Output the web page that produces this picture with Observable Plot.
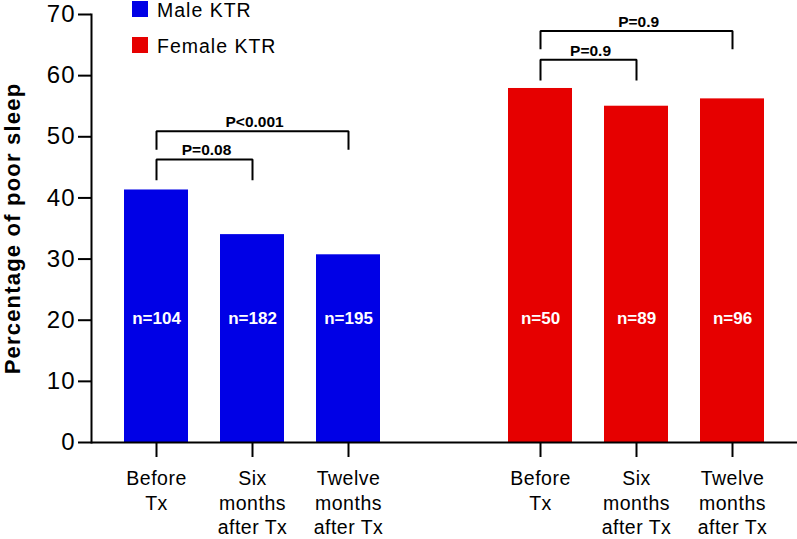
<!DOCTYPE html>
<html>
<head>
<meta charset="utf-8">
<script src="https://cdn.jsdelivr.net/npm/d3@7"></script>
<script src="https://cdn.jsdelivr.net/npm/@observablehq/plot@0.6"></script>
<style>
  html, body { margin: 0; padding: 0; background: #fff; }
  #wrap { position: relative; width: 797px; height: 539px; font-family: "Liberation Sans", Arial, Helvetica, sans-serif; color: #000; }
  #wrap svg { display: block; }
  .leg-sw { position: absolute; left: 132px; width: 16px; height: 16px; }
  .leg-tx { position: absolute; left: 157px; font-size: 19.5px; line-height: 1; letter-spacing: 1px; white-space: nowrap; }
  g[aria-label="y-axis tick label"] text { letter-spacing: 1px; }
  g[aria-label="x-axis tick label"] text { letter-spacing: 0.5px; }
  text.ytitle { letter-spacing: 1.2px; }
</style>
</head>
<body>
<div id="wrap"></div>
<script>
// ---- data ----
const groups = ["Male KTR", "Female KTR"];
const groupColors = ["#0000E6", "#E60000"];
const timepoints = ["Before Tx", "Six months after Tx", "Twelve months after Tx"];
const tickLabels = ["Before\nTx", "Six\nmonths\nafter Tx", "Twelve\nmonths\nafter Tx"];
const maleKeys = ["M0", "M1", "M2"];
const femaleKeys = ["F0", "F1", "F2"];
const slots = ["M0", "M1", "M2", "gap", "F0", "F1", "F2"];
const maleValues = [41.3, 34.0, 30.7];
const femaleValues = [57.9, 55.0, 56.2];
const maleN = [104, 182, 195];
const femaleN = [50, 89, 96];
const yTicks = [0, 10, 20, 30, 40, 50, 60, 70];

// significance brackets
const bracketFrom = ["M0", "M0", "F0", "F0"];
const bracketTo = ["M1", "M2", "F1", "F2"];
const bracketP = ["P=0.08", "P<0.001", "P=0.9", "P=0.9"];
const bracketTop = [46.3, 50.9, 62.6, 67.3];
const bracketBottom = [42.9, 47.9, 59.2, 64.3];

// ---- tables built from the arrays ----
const bars = [
  ...maleKeys.map((k, i) => ({slot: k, group: groups[0], time: timepoints[i], value: maleValues[i], n: maleN[i]})),
  ...femaleKeys.map((k, i) => ({slot: k, group: groups[1], time: timepoints[i], value: femaleValues[i], n: femaleN[i]}))
];
const tickKeys = [...maleKeys, ...femaleKeys];
const tickFmt = k => tickLabels[(maleKeys.indexOf(k) >= 0 ? maleKeys : femaleKeys).indexOf(k)];

const bracketPts = [];
bracketFrom.forEach((f, i) => {
  bracketPts.push({id: i, x: f, y: bracketBottom[i]});
  bracketPts.push({id: i, x: f, y: bracketTop[i]});
  bracketPts.push({id: i, x: bracketTo[i], y: bracketTop[i]});
  bracketPts.push({id: i, x: bracketTo[i], y: bracketBottom[i]});
});

// ---- layout ----
const W = 797, H = 539, mL = 91, mR = 0, mT = 14, mB = 97;
const padIn = 1 / 3, padOut = 0.34;
const step = (W - mL - mR) / (slots.length - padIn + 2 * padOut);
const font = '"Liberation Sans", Arial, Helvetica, sans-serif';

const bracketLabels = bracketFrom.map((f, i) =>
  Plot.text([{x: f, y: bracketTop[i], p: bracketP[i]}], {
    x: "x", y: "y", text: "p",
    dx: (slots.indexOf(bracketTo[i]) - slots.indexOf(f)) / 2 * step + 2,
    lineAnchor: "bottom", dy: -4,
    fontSize: 15.5, fontWeight: "bold", fill: "#000"
  })
);

const chart = Plot.plot({
  width: W, height: H,
  marginLeft: mL, marginRight: mR, marginTop: mT, marginBottom: mB,
  style: {fontFamily: font, color: "#000", background: "transparent", overflow: "visible"},
  x: {type: "band", domain: slots, paddingInner: padIn, paddingOuter: padOut, axis: null},
  y: {domain: [0, 70], axis: null},
  color: {domain: groups, range: groupColors},
  marks: [
    Plot.barY(bars, {x: "slot", y: "value", fill: "group"}),
    Plot.text(bars, {x: "slot", y: 20, text: d => "n=" + d.n, fill: "white", fontWeight: "bold", fontSize: 17, dy: -2}),
    Plot.ruleY([0], {stroke: "#000", strokeWidth: 2}),
    Plot.frame({anchor: "left", stroke: "#000", strokeWidth: 2}),
    Plot.axisY({ticks: yTicks, tickSize: 13, tickPadding: 3, fontSize: 24, strokeWidth: 2, label: null}),
    Plot.axisX({ticks: tickKeys, tickFormat: tickFmt, tickSize: 15, tickPadding: 10, fontSize: 19.5, lineHeight: 1.26, strokeWidth: 2, label: null}),
    Plot.line(bracketPts, {x: "x", y: "y", z: "id", stroke: "#000", strokeWidth: 2, strokeLinejoin: "miter", strokeLinecap: "butt"}),
    ...bracketLabels,
    Plot.text(["Percentage of poor sleep"], {text: d => d, frameAnchor: "left", textAnchor: "middle", rotate: -90, dx: -79, fontSize: 22, fontWeight: "bold", fill: "#000"})
  ]
});

const wrap = document.getElementById("wrap");
wrap.appendChild(chart);
d3.select(chart).selectAll("text").filter(function () { return this.textContent === "Percentage of poor sleep"; }).classed("ytitle", true);

// legend (HTML overlay)
const legTops = [1, 37];
groups.forEach((g, i) => {
  const sw = document.createElement("div");
  sw.className = "leg-sw";
  sw.style.top = legTops[i] + "px";
  sw.style.background = groupColors[i];
  wrap.appendChild(sw);
  const tx = document.createElement("div");
  tx.className = "leg-tx";
  tx.style.top = (legTops[i] - 0.5) + "px";
  tx.textContent = g;
  wrap.appendChild(tx);
});
</script>
</body>
</html>
